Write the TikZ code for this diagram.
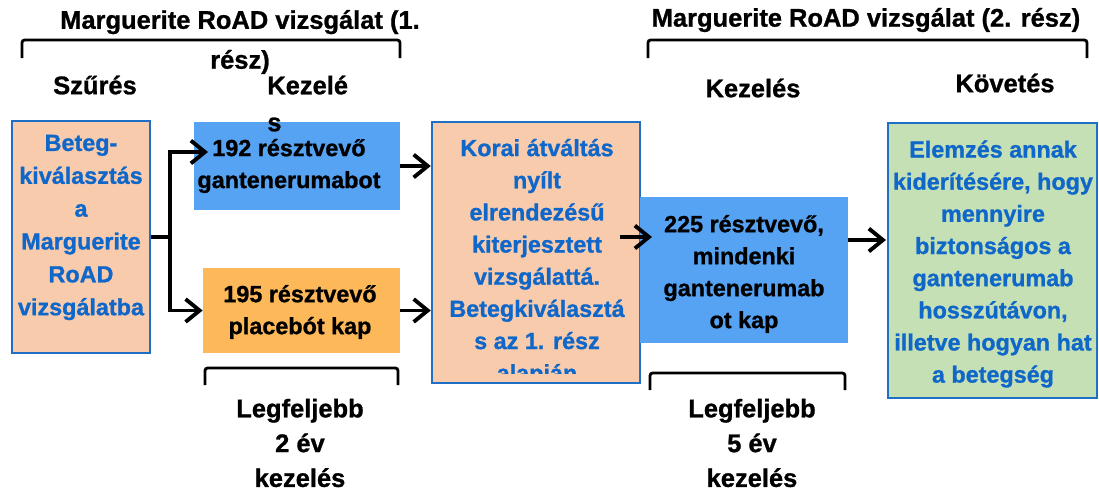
\documentclass[tikz,border=0pt]{standalone}
\usepackage{fontspec}
\setmainfont{Liberation Sans}[BoldFeatures={FakeBold=1}]
\usetikzlibrary{arrows.meta,calc}
\definecolor{keretkek}{HTML}{1F6FC4}
\definecolor{szovegkek}{HTML}{0F67C9}
\definecolor{barack}{HTML}{F8CBAD}
\definecolor{egkek}{HTML}{56A2F3}
\definecolor{narancs}{HTML}{FDB85A}
\definecolor{zold}{HTML}{C5E0B4}
\tikzset{
  doboz/.style={draw=keretkek, line width=1.4pt, inner sep=0pt},
  lapos/.style={inner sep=0pt},
  kektxt/.style={text=szovegkek, font=\bfseries\fontsize{13.3}{18.3}\selectfont, align=center, inner sep=0pt},
  fekettxt/.style={text=black, font=\bfseries\fontsize{13.3}{18.2}\selectfont, align=center, inner sep=0pt},
  fejlec/.style={font=\bfseries\fontsize{14.5}{19.8}\selectfont, align=center, inner sep=0pt},
  nyil/.style={line width=2.2pt, -{Straight Barb[length=8pt,width=13pt]}},
  vonal/.style={line width=2.2pt},
  zarojel/.style={line width=1.6pt, rounded corners=1.5pt}
}

\begin{document}
\begin{tikzpicture}[x=0.02cm, y=-0.02cm]
\useasboundingbox (0,0) rectangle (1099,491);

% dobozok
\node[doboz, fill=barack, minimum width=2.76cm, minimum height=4.64cm] (valaszt) at (81,237) {};
\node[lapos, fill=egkek, minimum width=4.12cm, minimum height=1.76cm] (gant192) at (297,166) {};
\node[lapos, fill=narancs, minimum width=3.94cm, minimum height=1.70cm] (placebo) at (301.5,310.5) {};
\node[doboz, fill=barack, minimum width=4.16cm, minimum height=5.22cm] (korai) at (536,252.5) {};
\node[lapos, fill=egkek, minimum width=4.16cm, minimum height=2.92cm] (mind225) at (744,270) {};
\node[doboz, fill=zold, minimum width=4.18cm, minimum height=5.5cm] (elemzes) at (992.5,260.5) {};

\node[kektxt, font=\bfseries\fontsize{13.3}{18.7}\selectfont] (valaszttxt) at (81,227.5)
  {Beteg-\\kiválasztás\\a\\Marguerite\\RoAD\\vizsgálatba};
\node[fekettxt] (gant192txt) at (289,166) {192 résztvevő\\gantenerumabot};
\node[fekettxt] (placebotxt) at (300,312) {195 résztvevő\\placebót kap};
\begin{scope}
  \clip (434,124) rectangle (638,373);
  \node[kektxt] (koraitxt) at (537,262.5)
    {Korai átváltás\\nyílt\\elrendezésű\\kiterjesztett\\vizsgálattá.\\Betegkiválasztá\\s az 1. rész\\alapján};
\end{scope}
\node[fekettxt] (mind225txt) at (744,274) {225 résztvevő,\\mindenki\\gantenerumab\\ot kap};
\begin{scope}
  \clip (890,125) rectangle (1095,387);
  \node[kektxt] (elemzestxt) at (993,264)
    {Elemzés annak\\kiderítésére, hogy\\mennyire\\biztonságos a\\gantenerumab\\hosszútávon,\\illetve hogyan hat\\a betegség};
\end{scope}

% nyilak
\coordinate (elagazas) at (170,237);
\coordinate (be192) at (208,152);
\coordinate (ki3) at (620,237);
\coordinate (be225) at (652,237);
\coordinate (bezold) at (886,240);
\draw[vonal] (valaszt.east) -- (elagazas);
\draw[nyil] (elagazas) |- (be192);
\draw[nyil] (elagazas) |- (placebo.west);
\draw[nyil] (gant192.east) -- (gant192.east -| korai.west);
\draw[nyil] (placebo.east) -- (placebo.east -| korai.west);
\draw[nyil] (ki3) -- (be225);
\draw[nyil] (bezold -| mind225.east) -- (bezold);

% zarojelek es feliratok
\draw[zarojel] (22,58) -- (22,40) -- (400,40) -- (400,58);
\draw[zarojel] (648,58) -- (648,40) -- (1087,40) -- (1087,58);
\draw[zarojel] (205,385) -- (205,368) -- (398,368) -- (398,385);
\draw[zarojel] (650,390) -- (650,373) -- (845,373) -- (845,390);

\node[fejlec, font=\bfseries\fontsize{14.5}{22.7}\selectfont] (cim1) at (240,42)
  {Marguerite RoAD vizsgálat (1.\\rész)};
\node[fejlec] (cim2) at (866,20) {Marguerite RoAD vizsgálat (2. rész)};
\node[fejlec] (szures) at (95,85) {Szűrés};
\node[fejlec, align=left, anchor=west, font=\bfseries\fontsize{14.5}{21}\selectfont] (kezeles1) at (267,103.5) {Kezelé\\s};
\node[fejlec] (kezeles2) at (753,88) {Kezelés};
\node[fejlec] (kovetes) at (1005,83) {Követés};
\node[fejlec] (max2) at (300,443) {Legfeljebb\\2 év\\kezelés};
\node[fejlec] (max5) at (752,443) {Legfeljebb\\5 év\\kezelés};
\end{tikzpicture}
\end{document}
